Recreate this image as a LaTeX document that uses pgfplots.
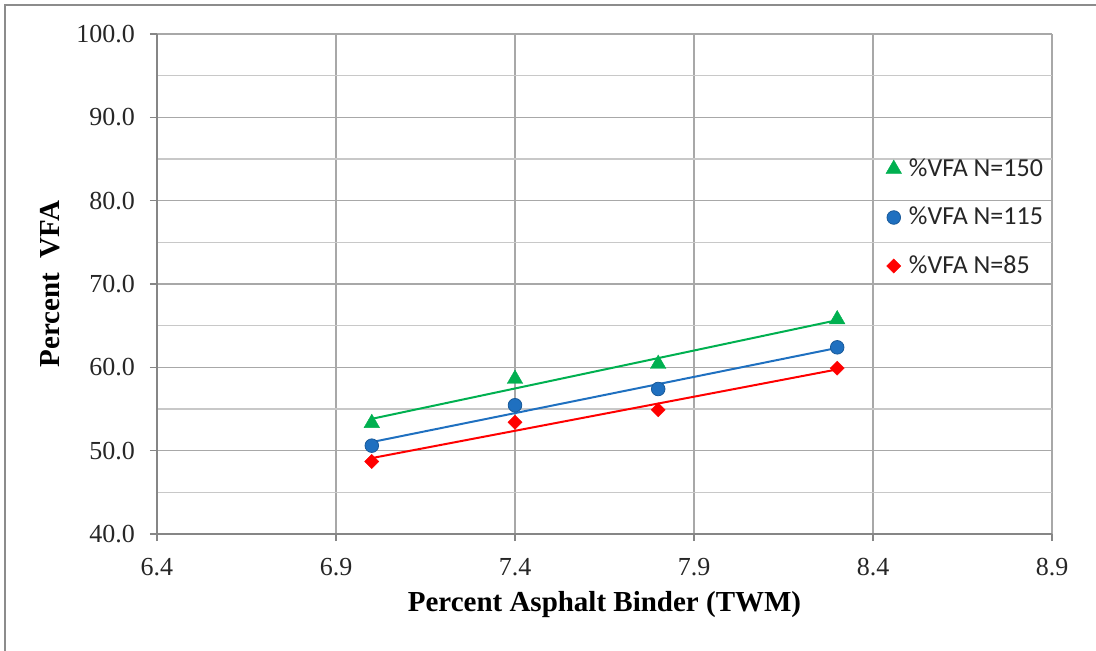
\documentclass[border=0pt]{standalone}
\usepackage{pgfplots}
\pgfplotsset{compat=1.18}
\usepackage{fontspec}
\setmainfont{Liberation Serif}
\newfontfamily\calibri{Carlito}
\definecolor{xlgreen}{RGB}{0,176,80}
\definecolor{xlblue}{RGB}{31,112,192}
\definecolor{xlred}{RGB}{255,0,0}
\definecolor{gridmaj}{RGB}{168,168,168}
\definecolor{gridmin}{RGB}{200,200,200}
\definecolor{axcol}{RGB}{134,134,134}
\definecolor{framecol}{RGB}{140,140,140}
\begin{document}
\begin{tikzpicture}
\path[use as bounding box] (-157bp,-117bp) rectangle (939bp,534bp);
\draw[framecol, line width=2bp] (-152bp,-117bp) -- (-152bp,529bp) -- (939bp,529bp);
\begin{axis}[
  at={(0,0)}, anchor=south west,
  scale only axis, width=895bp, height=500bp,
  xmin=6.4, xmax=8.9, ymin=40, ymax=100,
  xtick={6.4,6.9,7.4,7.9,8.4,8.9},
  ytick={40,50,60,70,80,90,100},
  minor y tick num=1,
  xmajorgrids, ymajorgrids, yminorgrids,
  major grid style={gridmaj, line width=1.3bp},
  minor grid style={gridmin, line width=1.3bp},
  axis lines=left,
  axis line style={-, axcol, line width=1.3bp},
  tick align=outside,
  major tick length=7bp, minor tick length=0bp,
  tick style={axcol, line width=1.3bp},
  /pgf/number format/assume math mode=true,
  xticklabel={\pgfmathprintnumber[fixed,fixed zerofill,precision=1]{\tick}},
  yticklabel={\pgfmathprintnumber[fixed,fixed zerofill,precision=1]{\tick}},
  ticklabel style={font=\fontsize{26bp}{30bp}\selectfont, text=black!85},
  yticklabel style={inner sep=0pt, xshift=-15bp},
  xticklabel style={inner sep=0pt, yshift=-17bp},
  xlabel={\bfseries Percent Asphalt Binder (TWM)},
  ylabel={\bfseries Percent\ \ VFA},
  label style={font=\fontsize{29bp}{33bp}\selectfont},
  xlabel style={at={(axis description cs:0.5,-0.142)}, anchor=center},
  ylabel style={at={(axis description cs:-0.1196,0.5)}, anchor=center},
  legend style={draw=none, fill=none, at={(0.8145,0.758)}, anchor=north west,
    font=\calibri\fontsize{26bp}{30bp}\selectfont, text=black!85,
    inner sep=0pt, outer sep=0pt, row sep=20.5bp,
    nodes={inner sep=2bp, text height=19bp, text depth=5bp}},
  legend cell align=left,
  legend image code/.code={\path (0bp,0bp) (20bp,0bp); \draw[mark repeat=2,mark phase=2,#1] plot coordinates {(0bp,0bp) (7bp,0bp) (14bp,0bp)};},
  clip=false,
]
% trendlines (linear fits of the data below)
\addplot[xlgreen, line width=2bp, forget plot] coordinates {(7.0,53.82) (8.3,65.66)};
\addplot[xlblue, line width=2bp, forget plot] coordinates {(7.0,51.03) (8.3,62.33)};
\addplot[xlred, line width=2bp, forget plot] coordinates {(7.0,49.11) (8.3,59.75)};
% data
\addplot[only marks, mark=triangle*, mark size=9bp, color=xlgreen, mark options={fill=xlgreen, draw=xlgreen}]
  coordinates {(7.0,53.3) (7.4,58.6) (7.8,60.4) (8.3,65.75)};
\addlegendentry{\%VFA N=150}
\addplot[only marks, mark=*, mark size=6.8bp, color=xlblue, mark options={fill=xlblue, draw=xlblue!80!black, line width=0.8bp}]
  coordinates {(7.0,50.6) (7.4,55.45) (7.8,57.4) (8.3,62.4)};
\addlegendentry{\%VFA N=115}
\addplot[only marks, mark=square*, mark size=5bp, color=xlred, mark options={fill=xlred, draw=xlred, rotate=45}]
  coordinates {(7.0,48.7) (7.4,53.4) (7.8,54.9) (8.3,59.9)};
\addlegendentry{\%VFA N=85}
\end{axis}
\end{tikzpicture}
\end{document}
